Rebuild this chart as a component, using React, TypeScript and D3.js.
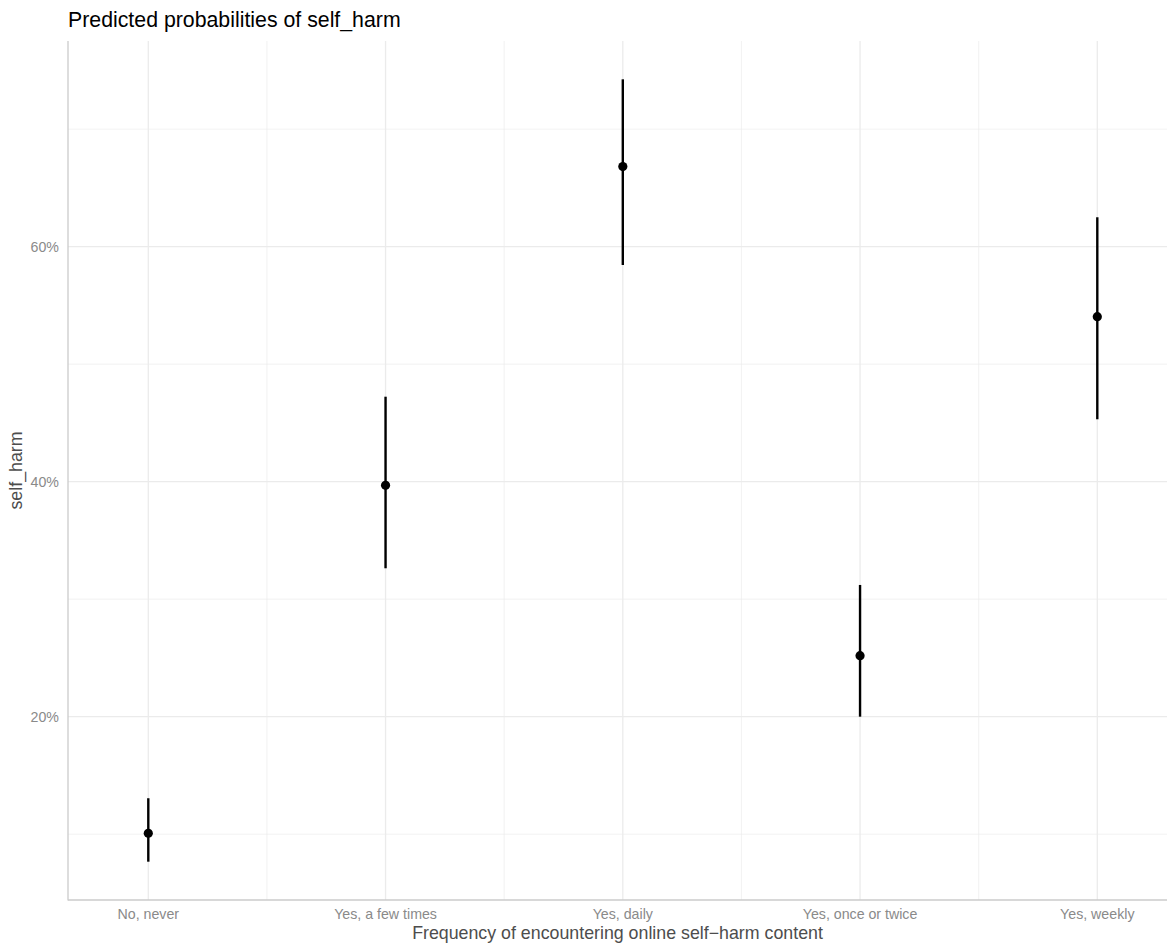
import React from 'react'
import { scaleLinear, scalePoint } from 'd3'

// values
const categories = ['No, never', 'Yes, a few times', 'Yes, daily', 'Yes, once or twice', 'Yes, weekly']
const predicted = [0.1008, 0.3969, 0.6681, 0.2519, 0.5404]
const lower = [0.0766, 0.3263, 0.5844, 0.2000, 0.4531]
const upper = [0.1306, 0.4723, 0.7424, 0.3121, 0.625]
const majorTicks = [0.2, 0.4, 0.6]
const minorTicks = [0.1, 0.3, 0.5, 0.7]

const W = 1167
const H = 946
const panel = { left: 68, right: 1167, top: 41, bottom: 900 }
const font = 'Liberation Sans, Arial, Helvetica, sans-serif'

const App = () => {
  const x = scalePoint<string>()
    .domain(categories)
    .range([148.3, 1097.3])
  const y = scaleLinear()
    .domain([0.044, 0.775])
    .range([panel.bottom, panel.top])

  const step = x.step()
  const minorX = categories.slice(1).map((c) => (x(c) as number) - step / 2)

  return (
    <svg width={W} height={H} style={{ position: 'absolute', left: 0, top: 0, background: '#fff' }}>
      <g>
        {/* grid */}
        {minorTicks.map((t) => (
          <line key={`my-${t}`} x1={panel.left} x2={panel.right} y1={y(t)} y2={y(t)} stroke="#ebebeb" strokeWidth={0.65} />
        ))}
        {minorX.map((px, i) => (
          <line key={`mx-${i}`} x1={px} x2={px} y1={panel.top} y2={panel.bottom} stroke="#ebebeb" strokeWidth={0.65} />
        ))}
        {majorTicks.map((t) => (
          <line key={`gy-${t}`} x1={panel.left} x2={panel.right} y1={y(t)} y2={y(t)} stroke="#ebebeb" strokeWidth={1.3} />
        ))}
        {categories.map((c) => (
          <line key={`gx-${c}`} x1={x(c)} x2={x(c)} y1={panel.top} y2={panel.bottom} stroke="#ebebeb" strokeWidth={1.3} />
        ))}

        {/* axis lines */}
        <line x1={panel.left} x2={panel.left} y1={panel.top} y2={panel.bottom + 0.6} stroke="#cbcbcb" strokeWidth={1.3} />
        <line x1={panel.left} x2={panel.right} y1={panel.bottom} y2={panel.bottom} stroke="#cbcbcb" strokeWidth={1.3} />

        {/* error bars + points */}
        {categories.map((c, i) => (
          <g key={`pt-${c}`}>
            <line x1={x(c)} x2={x(c)} y1={y(lower[i])} y2={y(upper[i])} stroke="#000" strokeWidth={2.4} />
            <circle cx={x(c)} cy={y(predicted[i])} r={4.6} fill="#000" />
          </g>
        ))}

        {/* y tick labels */}
        {majorTicks.map((t) => (
          <text key={`yl-${t}`} x={59} y={y(t)} dy="0.36em" textAnchor="end" fontFamily={font} fontSize={14.2} fill="#8a8a8a">
            {`${Math.round(t * 100)}%`}
          </text>
        ))}

        {/* x tick labels */}
        {categories.map((c) => (
          <text key={`xl-${c}`} x={x(c)} y={919} textAnchor="middle" fontFamily={font} fontSize={14.2} fill="#8a8a8a">
            {c}
          </text>
        ))}

        {/* titles */}
        <text x={68} y={27.3} fontFamily={font} fontSize={21.3} fill="#000">
          Predicted probabilities of self_harm
        </text>
        <text x={(panel.left + panel.right) / 2} y={939} textAnchor="middle" fontFamily={font} fontSize={17.8} fill="#4d4d4d">
          Frequency of encountering online self−harm content
        </text>
        <text
          transform={`translate(22, ${(panel.top + panel.bottom) / 2}) rotate(-90)`}
          textAnchor="middle"
          fontFamily={font}
          fontSize={17.8}
          fill="#4d4d4d"
        >
          self_harm
        </text>
      </g>
    </svg>
  )
}

export default App
